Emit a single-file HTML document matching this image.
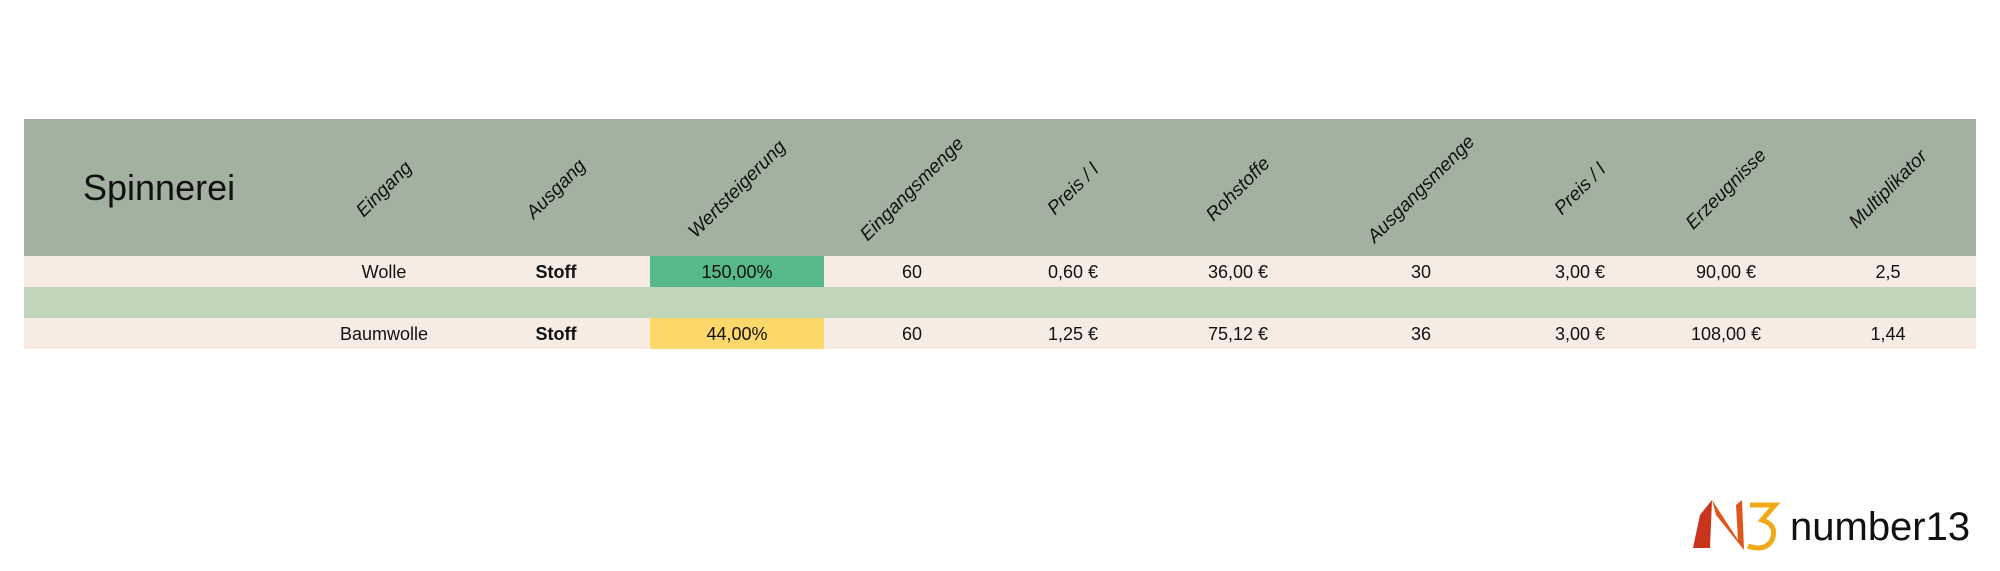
<!DOCTYPE html>
<html><head><meta charset="utf-8"><style>
html,body{margin:0;padding:0;background:#fff;width:2000px;height:571px;overflow:hidden;font-family:"Liberation Sans","DejaVu Sans",sans-serif}
svg{display:block}
</style></head><body>
<svg width="2000" height="571">
<rect x="24" y="119" width="1952" height="137" fill="#a3b2a0"/>
<text x="83" y="200" font-size="36" fill="#111" font-weight="300">Spinnerei</text>
<g id="heads"></g>
<g id="rows"></g>
<g>
<path d="M1693 548 L1700 515 L1712 500 L1710 548 Z" fill="#c8351c"/>
<path d="M1712 500 L1738 540 L1736 505 L1742 500 L1744 550 L1716 515 Z" fill="#e0561a"/>
<path d="M1750 505 L1775 505 L1762 520 Q1778 525 1772 540 Q1765 552 1748 546" fill="none" stroke="#f2a818" stroke-width="5"/>
<text x="1790" y="540" font-size="40" fill="#111">number13</text>
</g>
</svg>
<script>
const headers=["Eingang","Ausgang","Wertsteigerung","Eingangsmenge","Preis / l","Rohstoffe","Ausgangsmenge","Preis / l","Erzeugnisse","Multiplikator"];
const row1=["Wolle","Stoff","150,00%","60","0,60 €","36,00 €","30","3,00 €","90,00 €","2,5"];
const row2=["Baumwolle","Stoff","44,00%","60","1,25 €","75,12 €","36","3,00 €","108,00 €","1,44"];
const colX=[384,556,737,912,1073,1238,1421,1580,1726,1888];
const NS="http://www.w3.org/2000/svg";
const hg=document.getElementById('heads'),rg=document.getElementById('rows');
headers.forEach((h,i)=>{
 const t=document.createElementNS(NS,'text');
 t.setAttribute('x',colX[i]);t.setAttribute('y',195);
 t.setAttribute('text-anchor','middle');t.setAttribute('font-size','19');
 t.setAttribute('font-style','italic');t.setAttribute('fill','#111');
 t.setAttribute('transform','rotate(-45 '+colX[i]+' 189)');
 t.textContent=h;
 
 
 hg.appendChild(t);
});
function band(y,h,c,name){const r=document.createElementNS(NS,'rect');r.setAttribute('x',24);r.setAttribute('y',y);r.setAttribute('width',1952);r.setAttribute('height',h);r.setAttribute('fill',c);
 
 
 rg.appendChild(r);}
band(256,31,'#f7ece4','row-wolle');
band(287,31,'#bfd4b9','separator-row');
band(318,31,'#f7ece4','row-baumwolle');
function cell(x,y,w,h,c,name){const r=document.createElementNS(NS,'rect');r.setAttribute('x',x);r.setAttribute('y',y);r.setAttribute('width',w);r.setAttribute('height',h);r.setAttribute('fill',c);
 
 
 rg.appendChild(r);}
cell(650,256,174,31,'#57b987','value-increase-cell-wolle');
cell(650,318,174,31,'#fcd76a','value-increase-cell-baumwolle');
[[row1,278],[row2,340]].forEach(([row,y])=>{
 row.forEach((v,i)=>{
  const t=document.createElementNS(NS,'text');
  t.setAttribute('x',colX[i]);t.setAttribute('y',y);t.setAttribute('text-anchor','middle');
  t.setAttribute('font-size','18');t.setAttribute('fill','#111');
  if(i===1)t.setAttribute('font-weight','bold');
  t.textContent=v;
  
  
  rg.appendChild(t);
 });
});
</script>
</body></html>
